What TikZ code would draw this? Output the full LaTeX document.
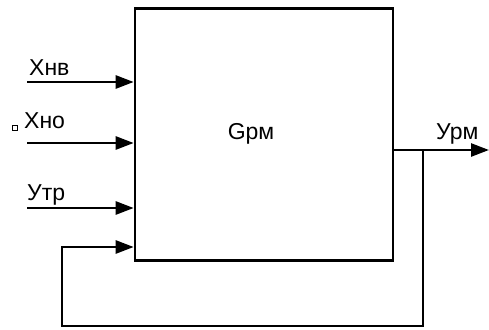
\documentclass[tikz,border=0pt]{standalone}
\usepackage{fontspec}
\setmainfont{Liberation Sans}
\usetikzlibrary{arrows.meta}
\begin{document}
\begin{tikzpicture}[x=1pt,y=-1pt,
  line/.style={line width=2.6pt,line join=miter},
  arr/.style={line,-{Triangle[length=18pt,width=13pt]}},
  lbl/.style={font=\fontsize{23}{26}\selectfont,inner sep=0pt}]
\useasboundingbox (0,0) rectangle (489,329);
\node[draw,line width=2.6pt,minimum width=258pt,minimum height=252pt,inner sep=0pt] (G) at (264,134.5) {};
\node[lbl] (gl) at (251,134) {Gрм};
\coordinate (i1s) at (27,82); \coordinate (i1e) at (G.west |- i1s);
\coordinate (i2s) at (27,143); \coordinate (i2e) at (G.west |- i2s);
\coordinate (i3s) at (27,208); \coordinate (i3e) at (G.west |- i3s);
\coordinate (fb) at (135,247);
\draw[arr] (i1s) -- (i1e);
\draw[arr] (i2s) -- (i2e);
\draw[arr] (i3s) -- (i3e);
\node[lbl,anchor=base west] (l1) at (29,75) {Хнв};
\node[lbl,anchor=base west] (l2) at (24,128) {Хно};
\node[lbl,anchor=base west] (l3) at (27,200) {Утр};
\node[draw,line width=0.7pt,minimum size=5pt,inner sep=0pt] (sq) at (14.5,127.5) {};
\coordinate (oe) at (489,150);
\coordinate (os) at (G.east |- oe);
\draw[arr] (os) -- (oe);
\node[lbl,anchor=base west] (l4) at (436,139) {Урм};
\coordinate (br) at (423,150);
\draw[arr] (br) -- (423,326) -- (62,326) -- (62,247) -- (G.west |- fb);
\end{tikzpicture}
\end{document}
